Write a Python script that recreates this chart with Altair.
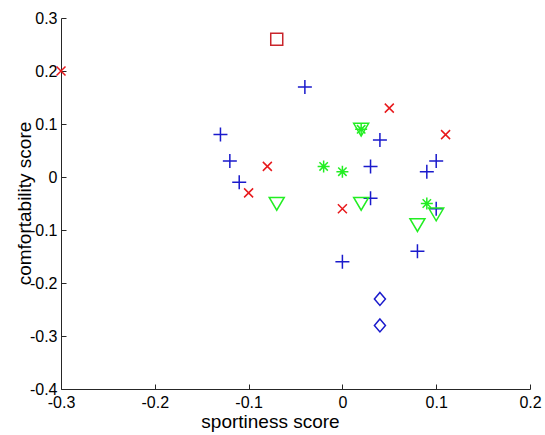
import altair as alt
import pandas as pd

# ---- data ----
red_x_sport = [-0.30, -0.08, -0.10, 0.00, 0.05, 0.11]
red_x_comf = [0.20, 0.02, -0.03, -0.06, 0.13, 0.08]

red_sq_sport = [-0.07]
red_sq_comf = [0.26]

blue_plus_sport = [-0.04, -0.13, -0.12, -0.11, 0.04, 0.03, 0.03, 0.00, 0.09, 0.10, 0.10, 0.08]
blue_plus_comf = [0.17, 0.08, 0.03, -0.01, 0.07, 0.02, -0.04, -0.16, 0.01, 0.03, -0.06, -0.14]

blue_dia_sport = [0.04, 0.04]
blue_dia_comf = [-0.23, -0.28]

green_tri_sport = [-0.07, 0.02, 0.02, 0.08, 0.10]
green_tri_comf = [-0.05, 0.09, -0.05, -0.09, -0.07]

green_star_sport = [-0.02, 0.00, 0.02, 0.09]
green_star_comf = [0.02, 0.01, 0.09, -0.05]

x_ticks = [-0.3, -0.2, -0.1, 0, 0.1, 0.2]
y_ticks = [-0.4, -0.3, -0.2, -0.1, 0, 0.1, 0.2, 0.3]

FONT = "Liberation Sans"
AXIS_COLOR = "#262626"

groups = [
    ("redx", red_x_sport, red_x_comf, "M-1,-1L1,1M-1,1L1,-1", 81, "#e8191c"),
    ("redsq", red_sq_sport, red_sq_comf, "M-1,-1L1,-1L1,1L-1,1Z", 144, "#c9252b"),
    ("blueplus", blue_plus_sport, blue_plus_comf, "M-1,0L1,0M0,-1L0,1", 196, "#1a1acc"),
    ("bluedia", blue_dia_sport, blue_dia_comf, "M0,-1L0.85,0L0,1L-0.85,0Z", 169, "#1a1acc"),
    ("greentri", green_tri_sport, green_tri_comf, "M-1,-0.8L1,-0.8L0,0.9Z", 225, "#22ee22"),
    ("greenstar", green_star_sport, green_star_comf,
     "M-1,0L1,0M0,-1L0,1M-0.7,-0.7L0.7,0.7M-0.7,0.7L0.7,-0.7", 144, "#22ee22"),
]

label_expr = "replace(format(datum.value, '.1~f'), '\u2212', '-')"

xscale = alt.Scale(domain=[-0.3, 0.2], nice=False, zero=False)
yscale = alt.Scale(domain=[-0.4, 0.3], nice=False, zero=False)

x_main_axis = alt.Axis(
    orient="bottom", values=x_ticks, labelExpr=label_expr, ticks=False,
    domainColor=AXIS_COLOR, domainWidth=1, labelFont=FONT, labelFontSize=16,
    labelColor="black", labelPadding=5, labelBaseline="top", labelFlush=False,
    labelOverlap=False, grid=False, title="sportiness score", titleFont=FONT,
    titleFontSize=19, titleFontWeight="normal", titleColor="black",
    titleX=209, titleY=38, titleAlign="center", titleBaseline="alphabetic",
)
y_main_axis = alt.Axis(
    orient="left", values=y_ticks, labelExpr=label_expr, ticks=False,
    domainColor=AXIS_COLOR, domainWidth=1, labelFont=FONT, labelFontSize=16,
    labelColor="black", labelPadding=4, labelBaseline="middle", labelFlush=False,
    labelOverlap=False, grid=False, title="comfortability score", titleFont=FONT,
    titleFontSize=19, titleFontWeight="normal", titleColor="black",
    titleAngle=270, titleX=-37, titleY=185, titleAlign="center", titleBaseline="middle",
)

layers = []
for i, (name, xs, ys, shape, size, color) in enumerate(groups):
    df = pd.DataFrame({"sport": xs, "comf": ys})
    xa = x_main_axis if i == 0 else None
    ya = y_main_axis if i == 0 else None
    layers.append(
        alt.Chart(df).mark_point(
            shape=shape, size=size, filled=False, stroke=color, strokeWidth=1.5, opacity=1
        ).encode(
            x=alt.X("sport:Q", scale=xscale, axis=xa),
            y=alt.Y("comf:Q", scale=yscale, axis=ya),
        )
    )

# invisible layer carrying inward-pointing tick marks
tick_df = pd.DataFrame({"sport": red_x_sport, "comf": red_x_comf})
tick_layer = alt.Chart(tick_df).mark_point(opacity=0, size=1).encode(
    x=alt.X("sport:Q", scale=xscale, axis=alt.Axis(
        orient="top", offset=-371, values=x_ticks, labels=False, domain=False,
        ticks=True, tickSize=5, tickColor=AXIS_COLOR, grid=False, title=None)),
    y=alt.Y("comf:Q", scale=yscale, axis=alt.Axis(
        orient="right", offset=-469, values=y_ticks, labels=False, domain=False,
        ticks=True, tickSize=5, tickColor=AXIS_COLOR, grid=False, title=None)),
)

chart = alt.layer(*layers, tick_layer).properties(
    width=469, height=371,
    padding={"left": 61, "top": 18, "right": 15, "bottom": 46},
    autosize="none",
    background="white",
).configure_view(stroke=None)

chart.save("out.html", embed_options={"renderer": "svg", "actions": False})
